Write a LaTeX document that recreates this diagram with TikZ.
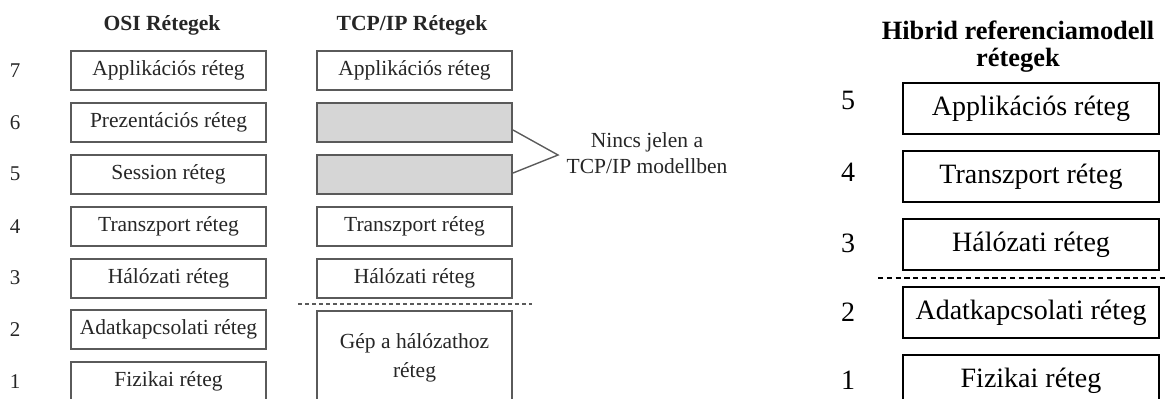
\documentclass[tikz,border=0pt]{standalone}
\usepackage{fontspec}
\setmainfont{Liberation Serif}
\definecolor{lline}{HTML}{5A5A5A}
\definecolor{ltext}{HTML}{262626}
\definecolor{lgray}{HTML}{D6D6D6}
\begin{document}
\begin{tikzpicture}[x=0.5pt,y=-0.5pt]
\tikzset{
 lbox/.style={draw=lline, line width=1pt, minimum width=97.5pt, minimum height=19.5pt, inner sep=0pt, font=\fontsize{10.75}{14.5}\selectfont, text=ltext, align=center},
 gbox/.style={lbox, fill=lgray},
 rbox/.style={draw=black, line width=0.75pt, minimum width=128pt, minimum height=25.5pt, inner sep=0pt, font=\fontsize{14}{17}\selectfont},
 lnum/.style={font=\fontsize{10.5}{13}\selectfont, text=ltext},
 rnum/.style={font=\fontsize{14}{17}\selectfont},
 ltitle/.style={font=\bfseries\fontsize{10.8}{13}\selectfont, text=ltext},
 rtitle/.style={font=\bfseries\fontsize{13.2}{13.5}\selectfont, align=center},
 lsep/.style={draw=lline, line width=0.7pt, dash pattern=on 2pt off 1.5pt},
 rsep/.style={draw=black, line width=0.6pt, dash pattern=on 2.6pt off 1.8pt},
 brace/.style={draw=lline, line width=0.7pt},
 note/.style={font=\fontsize{10.75}{13}\selectfont, text=ltext, align=center}
}
\useasboundingbox (0,0) rectangle (1166,398);
% titles
\node[ltitle] (t1) at (162,25) {OSI Rétegek};
\node[ltitle] (t2) at (412,25) {TCP/IP Rétegek};
\node[rtitle] (t3) at (1018,46.5) {Hibrid referenciamodell\\rétegek};
% OSI column
\node[lbox] (o7) at (168.5,70.5) {Applikációs réteg};
\node[lbox] (o6) at (168.5,122.5) {Prezentációs réteg};
\node[lbox] (o5) at (168.5,174) {Session réteg};
\node[lbox] (o4) at (168.5,226.5) {Transzport réteg};
\node[lbox] (o3) at (168.5,278) {Hálózati réteg};
\node[lbox] (o2) at (168.5,329.5) {Adatkapcsolati réteg};
\node[lbox] (o1) at (168.5,381.5) {Fizikai réteg};
\foreach \n/\y in {7/70.5,6/122.5,5/174,4/226.5,3/278,2/329.5,1/381.5}
  \node[lnum] (n\n) at (15,\y) {\n};
% TCP/IP column
\node[lbox] (c7) at (414.5,70.5) {Applikációs réteg};
\node[gbox] (g6) at (414.5,122.5) {};
\node[gbox] (g5) at (414.5,174) {};
\node[lbox] (c4) at (414.5,226.5) {Transzport réteg};
\node[lbox] (c3) at (414.5,278) {Hálózati réteg};
\node[lbox, minimum height=46.5pt] (c1) at (414.5,357.5) {Gép a hálózathoz\\réteg};
\draw[lsep] (298,304) coordinate (ls1) -- (532,304) coordinate (ls2);
% brace to note
\coordinate (v) at (558,155);
\node[note] (nn) at (647,153) {Nincs jelen a\\TCP/IP modellben};
\draw[brace] ([yshift=-3.75pt]g6.east) -- (v) -- ([yshift=0.5pt]g5.east);
% hybrid column
\node[rbox] (h5) at (1031,108.5) {Applikációs réteg};
\node[rbox] (h4) at (1031,176.5) {Transzport réteg};
\node[rbox] (h3) at (1031,244.5) {Hálózati réteg};
\node[rbox] (h2) at (1031,312.5) {Adatkapcsolati réteg};
\node[rbox] (h1) at (1031,380.5) {Fizikai réteg};
\foreach \n/\y in {5/100,4/172,3/243.5,2/312,1/380}
  \node[rnum] (m\n) at (848,\y) {\n};
\draw[rsep] (878,278) coordinate (rs1) -- (1166,278) coordinate (rs2);
\end{tikzpicture}
\end{document}
